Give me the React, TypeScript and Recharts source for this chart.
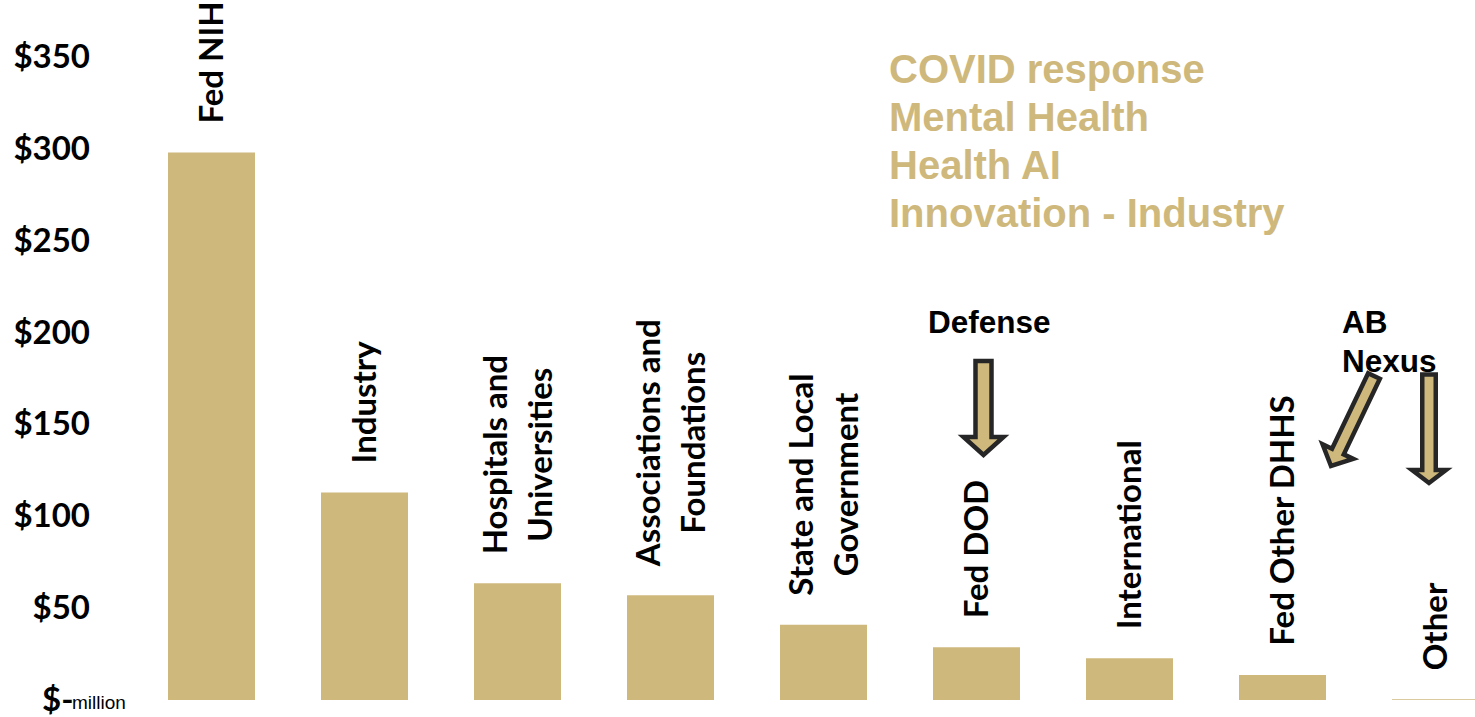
import React from "react";
import { BarChart, Bar, XAxis, YAxis, LabelList } from "recharts";

const categories = [
  "Fed NIH",
  "Industry",
  "Hospitals and Universities",
  "Associations and Foundations",
  "State and Local Government",
  "Fed DOD",
  "International",
  "Fed Other DHHS",
  "Other",
];
const labelLines: string[][] = [
  ["Fed NIH"],
  ["Industry"],
  ["Hospitals and", "Universities"],
  ["Associations and", "Foundations"],
  ["State and Local", "Government"],
  ["Fed DOD"],
  ["International"],
  ["Fed Other DHHS"],
  ["Other"],
];
const values = [298, 113, 63.5, 57, 41, 28.7, 22.7, 13.6, 0.4];
const yTicks = [0, 50, 100, 150, 200, 250, 300, 350];
const focusAreas = ["COVID response", "Mental Health", "Health AI", "Innovation - Industry"];
const abNexusLines = ["AB", "Nexus"];

const data = categories.map((name, i) => ({ name, value: values[i], lines: labelLines[i] }));

const GOLD = "#CFB87C";
const DARK = "#262626";
const LABEL_FONT = "Lato, 'Noto Sans', sans-serif";
const LABEL_SIZE = 33;
const ARIAL = "'Liberation Sans', Arial, sans-serif";

let ctx: CanvasRenderingContext2D | null = null;
function measure(text: string, font: string): number {
  if (!ctx) {
    const c = document.createElement("canvas");
    ctx = c.getContext("2d");
  }
  if (!ctx) return text.length * 17;
  ctx.font = font;
  return ctx.measureText(text).width;
}

const YTick = (props: any) => {
  const { y, payload } = props;
  const v = payload.value;
  if (v === 0) {
    return (
      <g>
        <text x={42} y={y + 11} fontFamily={LABEL_FONT} fontWeight={700} fontSize={33} fill="#000">
          $-
        </text>
        <text x={72} y={y + 9} fontFamily={ARIAL} fontSize={19} fill="#000">
          million
        </text>
      </g>
    );
  }
  return (
    <text x={90} y={y + 11} textAnchor="end" fontFamily={LABEL_FONT} fontWeight={700} fontSize={33} fill="#000">
      {"$" + v}
    </text>
  );
};

const BarLabel = (props: any) => {
  const { x, y, width, index } = props;
  const lines = labelLines[index];
  const font = `bold ${LABEL_SIZE}px Lato`;
  const maxLen = Math.max(...lines.map((l) => measure(l, font)));
  const cx = x + width / 2;
  const cy = y - 29 - maxLen / 2;
  const spacing = 45.5;
  return (
    <g>
      {lines.map((l, i) => {
        const lx = cx + (i - (lines.length - 1) / 2) * spacing;
        return (
          <text
            key={i}
            transform={`translate(${lx},${cy}) rotate(-90)`}
            x={0}
            y={LABEL_SIZE * 0.36}
            textAnchor="middle"
            fontFamily={LABEL_FONT}
            fontWeight={700}
            fontSize={LABEL_SIZE}
            fill="#000"
          >
            {l}
          </text>
        );
      })}
    </g>
  );
};

const Arrow = ({ x1, y1, x2, y2, sw, hw, hl }: any) => {
  const L = Math.hypot(x2 - x1, y2 - y1);
  const ang = (Math.atan2(y2 - y1, x2 - x1) * 180) / Math.PI;
  const d = `M0,${-sw / 2} L${L - hl},${-sw / 2} L${L - hl},${-hw / 2} L${L},0 L${L - hl},${hw / 2} L${L - hl},${sw / 2} L0,${sw / 2} Z`;
  return (
    <path
      d={d}
      transform={`translate(${x1},${y1}) rotate(${ang})`}
      fill={GOLD}
      stroke={DARK}
      strokeWidth={4.5}
      strokeLinejoin="miter"
    />
  );
};

export default function App() {
  return (
    <div style={{ position: "absolute", left: 0, top: 0, width: 1475, height: 717, overflow: "hidden", background: "#fff" }}>
      <BarChart width={1512} height={717} data={data} margin={{ top: 57, right: 0, left: 0, bottom: 17 }}>
        <XAxis dataKey="name" hide />
        <YAxis
          width={135}
          domain={[0, 350]}
          ticks={yTicks}
          axisLine={false}
          tickLine={false}
          tick={<YTick />}
          interval={0}
        />
        <Bar dataKey="value" fill={GOLD} barSize={87} isAnimationActive={false}>
          <LabelList dataKey="name" content={<BarLabel />} />
        </Bar>
      </BarChart>
      <svg
        width={1475}
        height={717}
        style={{ position: "absolute", left: 0, top: 0, pointerEvents: "none", overflow: "visible" }}
      >
        {focusAreas.map((t, i) => (
          <text key={t} x={889} y={83 + i * 48} fontFamily={ARIAL} fontWeight={700} fontSize={40} fill={GOLD}>
            {t}
          </text>
        ))}
        <text x={928} y={333} fontFamily={ARIAL} fontWeight={700} fontSize={31.5} fill="#000">
          Defense
        </text>
        {abNexusLines.map((t, i) => (
          <text key={t} x={1342} y={333 + i * 39} fontFamily={ARIAL} fontWeight={700} fontSize={31.5} fill="#000">
            {t}
          </text>
        ))}
        <Arrow x1={983.5} y1={361} x2={983.5} y2={455} sw={16} hw={40} hl={18} />
        <Arrow x1={1374} y1={376} x2={1331} y2={466} sw={13} hw={34} hl={16} />
        <Arrow x1={1429} y1={374.5} x2={1429} y2={483} sw={13.5} hw={34} hl={13} />
      </svg>
    </div>
  );
}
